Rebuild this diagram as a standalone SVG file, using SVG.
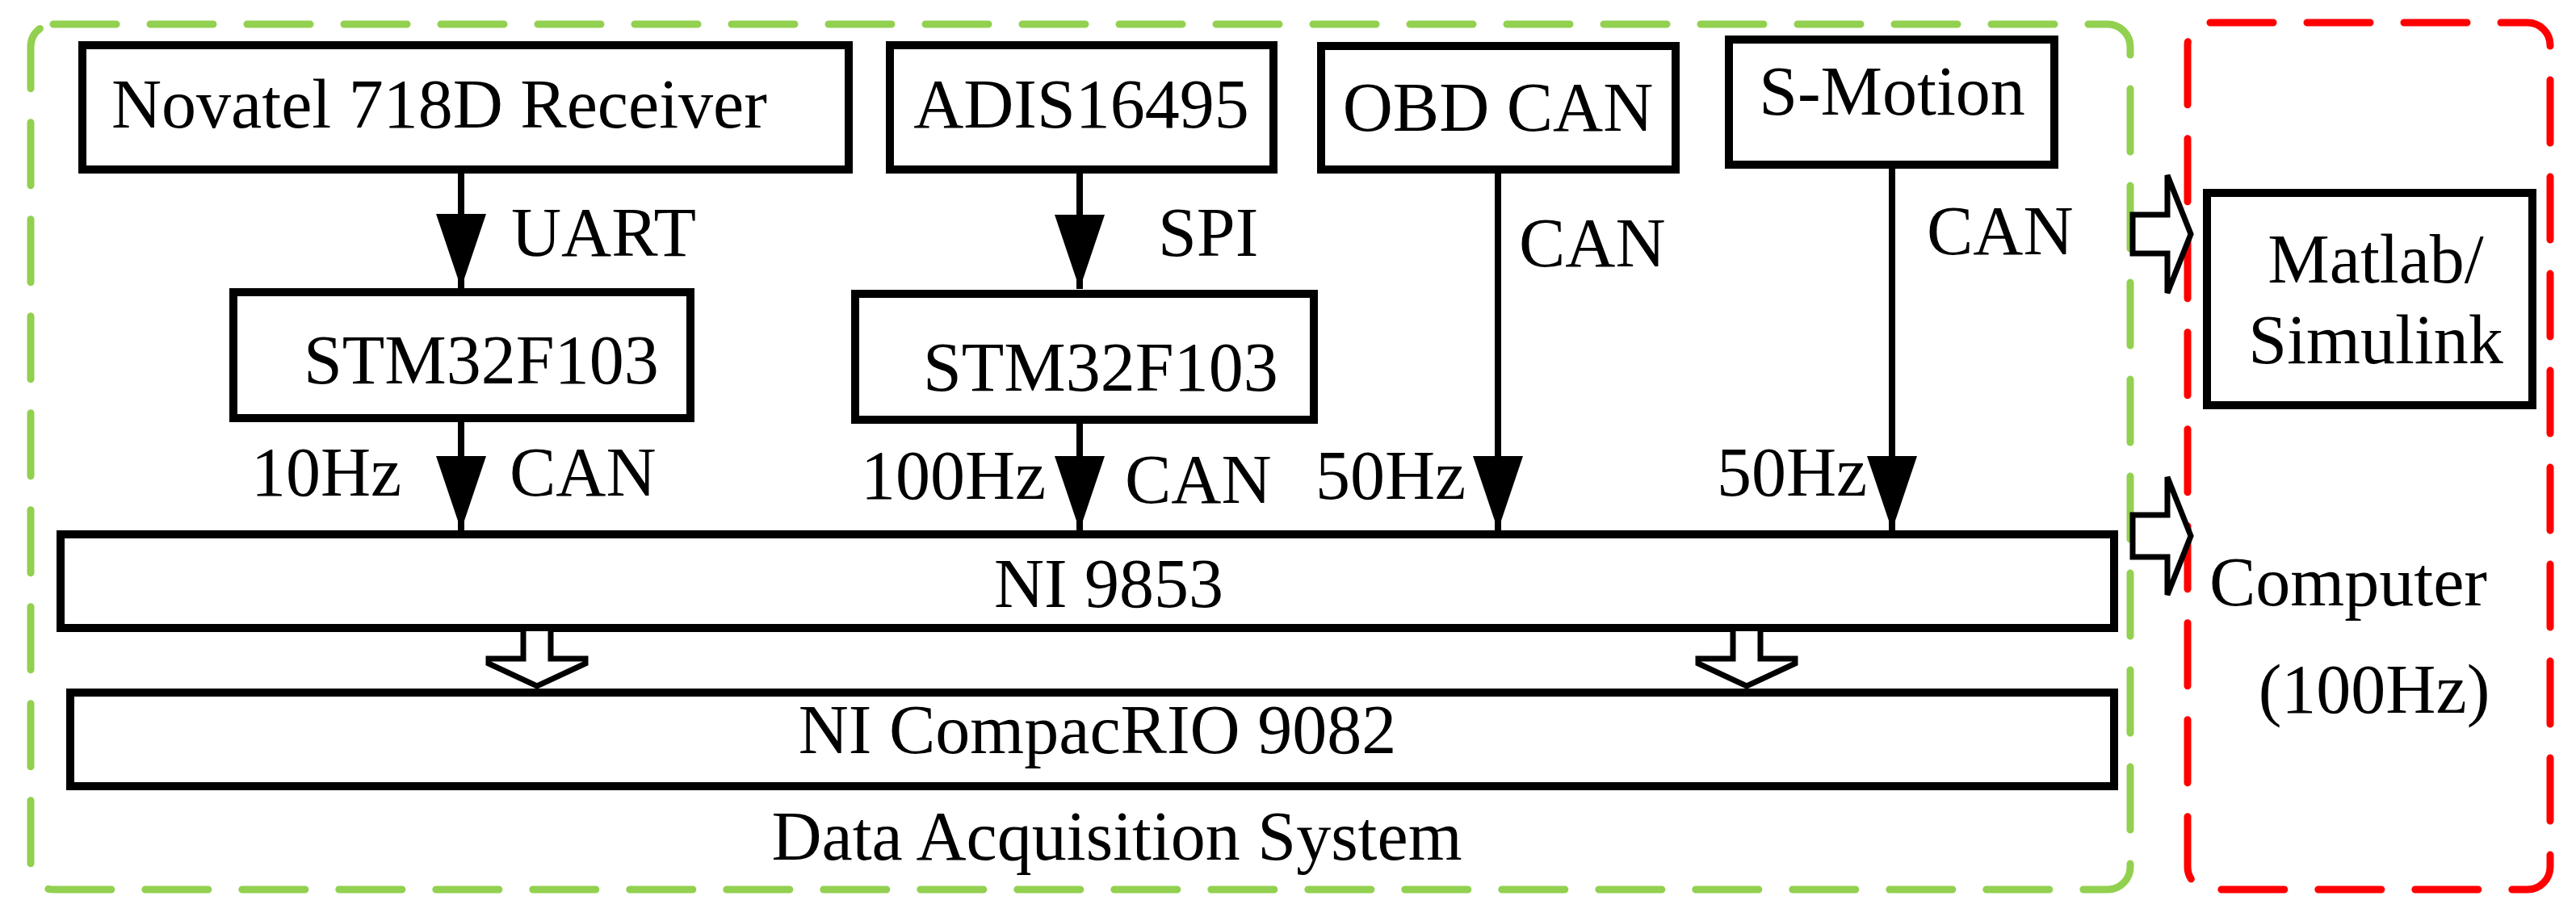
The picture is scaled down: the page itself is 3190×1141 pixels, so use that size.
<svg xmlns="http://www.w3.org/2000/svg" width="3190" height="1141" viewBox="0 0 3190 1141">
<style>
.t{font-family:"Liberation Serif",serif;font-size:86px;fill:#000}
.m{text-anchor:middle}
.b{fill:#fff;stroke:#000;stroke-width:10}
.c{stroke:#000;stroke-width:8;fill:none}
.h{fill:#fff;stroke:#000;stroke-width:7;stroke-linejoin:miter}
</style>
<defs>
<marker id="ah" markerUnits="userSpaceOnUse" markerWidth="94" markerHeight="62" refX="92" refY="31" orient="auto" viewBox="0 0 94 62" preserveAspectRatio="none">
<path d="M0,0 L92,31 L0,62 Z" fill="#000"/>
</marker>
</defs>
<rect x="38" y="30" width="2600" height="1072" rx="28" fill="none" stroke="#92d050" stroke-width="9" stroke-dasharray="78 42" stroke-linecap="round"/>
<rect x="2709" y="28" width="449" height="1074" rx="28" fill="none" stroke="#ff0000" stroke-width="9" stroke-dasharray="78 42" stroke-linecap="round"/>
<g id="novatel"><rect class="b" x="102" y="56" width="949" height="154"/><text class="t" x="138" y="158">Novatel 718D Receiver</text></g>
<g id="adis"><rect class="b" x="1102" y="56" width="475" height="154"/><text class="t m" x="1339" y="158">ADIS16495</text></g>
<g id="obd"><rect class="b" x="1636" y="57" width="439" height="153"/><text class="t m" x="1855" y="162">OBD CAN</text></g>
<g id="smotion"><rect class="b" x="2141" y="49" width="403" height="155"/><text class="t m" x="2343" y="142">S-Motion</text></g>
<g id="stm1"><rect class="b" x="289" y="362" width="566" height="156"/><text class="t" x="376" y="475">STM32F103</text></g>
<g id="stm2"><rect class="b" x="1059" y="364" width="568" height="156"/><text class="t" x="1143" y="484">STM32F103</text></g>
<g id="ni9853"><rect class="b" x="75" y="662" width="2543" height="116"/><text class="t m" x="1373" y="752">NI 9853</text></g>
<g id="crio"><rect class="b" x="87" y="858" width="2531" height="116"/><text class="t m" x="1359" y="933">NI CompacRIO 9082</text></g>
<g id="matlab"><rect class="b" x="2733" y="239" width="403" height="263"/><text class="t m" x="2942" y="350">Matlab/</text><text class="t m" x="2942" y="450">Simulink</text></g>
<g id="labels">
<text class="t m" x="1383" y="1065">Data Acquisition System</text>
<text class="t" x="2736" y="750">Computer</text>
<text class="t m" x="2940" y="883">(100Hz)</text>
</g>
<g id="connectors">
<line class="c" x1="571" y1="210" x2="571" y2="357" marker-end="url(#ah)"/>
<line class="c" x1="1337" y1="210" x2="1337" y2="358" marker-end="url(#ah)"/>
<line class="c" x1="571" y1="518" x2="571" y2="657" marker-end="url(#ah)"/>
<line class="c" x1="1337" y1="520" x2="1337" y2="657" marker-end="url(#ah)"/>
<line class="c" x1="1855" y1="210" x2="1855" y2="657" marker-end="url(#ah)"/>
<line class="c" x1="2343" y1="204" x2="2343" y2="657" marker-end="url(#ah)"/>
<text class="t" x="633" y="317">UART</text>
<text class="t" x="1434" y="317">SPI</text>
<text class="t" x="311" y="614">10Hz</text>
<text class="t" x="631" y="614">CAN</text>
<text class="t" x="1066" y="618">100Hz</text>
<text class="t" x="1393" y="623">CAN</text>
<text class="t" x="1881" y="330">CAN</text>
<text class="t" x="2386" y="315">CAN</text>
<text class="t" x="1629" y="618">50Hz</text>
<text class="t" x="2126" y="614">50Hz</text>
<path class="h" d="M648,782 V816 H605 V822 L665,850 L725,822 V816 H682 V782"/>
<path class="h" d="M2146,782 V816 H2103 V822 L2163,850 L2223,822 V816 H2180 V782"/>
<path class="h" d="M2641,266 H2684 V217 L2713,290 L2684,363 V314 H2641 Z"/>
<path class="h" d="M2641,638 H2684 V591 L2713,664 L2684,737 V690 H2641 Z"/>
</g>
</svg>
